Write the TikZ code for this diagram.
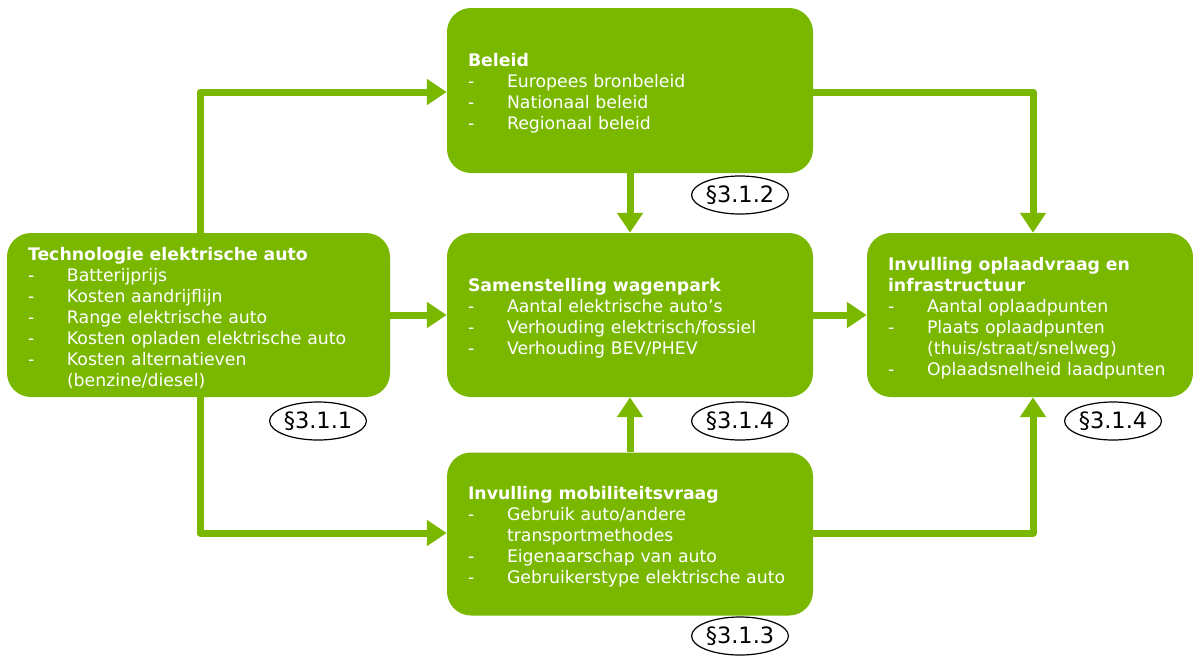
\documentclass[tikz,border=0pt]{standalone}
\usepackage{fontspec}
\setmainfont{DejaVu Sans}
\usetikzlibrary{arrows.meta,shapes.geometric}
\definecolor{dgreen}{RGB}{122,184,0}
\newcommand{\itm}{\makebox[39pt][l]{-}}
\tikzset{
  box/.style={fill=dgreen, rounded corners=24pt, inner sep=0pt, anchor=center},
  boxtext/.style={inner sep=0pt, text=white, align=left,
    font=\fontsize{17.3}{21}\selectfont, anchor=center},
  arr/.style={draw=dgreen, line width=7pt, line join=round,
    -{Triangle[length=20pt,width=25pt]}},
  lab/.style={draw=black, line width=1.2pt, ellipse, minimum width=96pt, minimum height=38pt,
    inner sep=0pt, font=\fontsize{22.5}{24}\selectfont}
}
\begin{document}
\begin{tikzpicture}[x=1pt,y=-1pt]
\useasboundingbox (0,0) rectangle (1193,656);
\node[box, minimum width=366pt, minimum height=165pt] (beleid) at (630,90.5) {};
\node[box, minimum width=383pt, minimum height=164pt] (tech) at (198.5,315) {};
\node[box, minimum width=326pt, minimum height=164pt] (oplaad) at (1030,315) {};
\node[box, minimum width=366pt, minimum height=164pt] (samen) at (630,315) {};
\node[box, minimum width=366pt, minimum height=163pt] (mob) at (630,534) {};
\node[boxtext, text width=324pt] (beleidT) at ([yshift=-3pt]beleid.center)
  {\textbf{Beleid}\\ \itm Europees bronbeleid\\ \itm Nationaal beleid\\ \itm Regionaal beleid};
\node[boxtext, text width=341pt] (techT) at ([yshift=-3pt]tech.center)
  {\textbf{Technologie elektrische auto}\\ \itm Batterijprijs\\ \itm Kosten aandrijflijn\\ \itm Range elektrische auto\\ \itm Kosten opladen elektrische auto\\ \itm Kosten alternatieven\\ \hspace*{39pt}(benzine/diesel)};
\node[boxtext, text width=284pt] (oplaadT) at ([yshift=-3pt]oplaad.center)
  {\textbf{Invulling oplaadvraag en}\\ \textbf{infrastructuur}\\ \itm Aantal oplaadpunten\\ \itm Plaats oplaadpunten\\ \hspace*{39pt}(thuis/straat/snelweg)\\ \itm Oplaadsnelheid laadpunten};
\node[boxtext, text width=324pt] (samenT) at ([yshift=-3pt]samen.center)
  {\textbf{Samenstelling wagenpark}\\ \itm Aantal elektrische auto's\\ \itm Verhouding elektrisch/fossiel\\ \itm Verhouding BEV/PHEV};
\node[boxtext, text width=324pt] (mobT) at ([yshift=-3pt]mob.center)
  {\textbf{Invulling mobiliteitsvraag}\\ \itm Gebruik auto/andere\\ \hspace*{39pt}transportmethodes\\ \itm Eigenaarschap van auto\\ \itm Gebruikerstype elektrische auto};
\coordinate (c1) at (200,92);
\coordinate (c2) at (1033,92);
\coordinate (c3) at (200,533);
\coordinate (c4) at (1033,533);
\draw[arr] (c1 |- tech.north) -- (c1) -- (c1 -| beleid.west);
\draw[arr] (c2 -| beleid.east) -- (c2) -- (c2 |- oplaad.north);
\draw[arr] (beleid.south) -- (samen.north);
\draw[arr] (tech.east) -- (samen.west);
\draw[arr] (samen.east) -- (oplaad.west);
\draw[arr] (c3 |- tech.south) -- (c3) -- (c3 -| mob.west);
\draw[arr] (mob.north) -- (samen.south);
\draw[arr] (c4 -| mob.east) -- (c4) -- (c4 |- oplaad.south);
\node[lab] (l1) at (318,421) {§3.1.1};
\node[lab] (l2) at (740,195) {§3.1.2};
\node[lab] (l3) at (740,636) {§3.1.3};
\node[lab] (l4) at (740,421) {§3.1.4};
\node[lab] (l5) at (1113,421) {§3.1.4};
\end{tikzpicture}
\end{document}
